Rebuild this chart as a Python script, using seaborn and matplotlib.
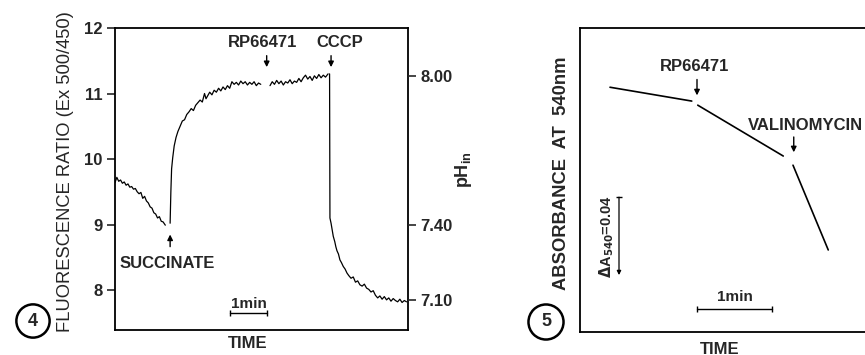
import numpy as np
import pandas as pd
import seaborn as sns
import matplotlib.pyplot as plt

# ---- data (time in min) ----
# fig 4: fluorescence ratio trace, split into segments where the trace is broken
seg_a_t = [0.00, 0.05, 0.10, 0.15, 0.20, 0.25, 0.30, 0.35, 0.40, 0.45, 0.50, 0.55, 0.60, 0.65,
           0.70, 0.75, 0.80, 0.85, 0.90, 0.95, 1.00, 1.05, 1.10, 1.15, 1.20, 1.25, 1.30, 1.36]
seg_a_r = [9.64, 9.72, 9.66, 9.68, 9.63, 9.65, 9.60, 9.62, 9.57, 9.58, 9.54, 9.55, 9.50, 9.47,
           9.49, 9.40, 9.43, 9.36, 9.33, 9.27, 9.25, 9.18, 9.16, 9.10, 9.12, 9.05, 9.04, 8.99]

seg_b_t = [1.49, 1.51, 1.53, 1.56, 1.60, 1.65, 1.70, 1.76, 1.82, 1.88, 1.94, 2.00, 2.06, 2.12,
           2.18, 2.24, 2.30, 2.36, 2.42, 2.46, 2.50, 2.56, 2.62, 2.68, 2.74, 2.80, 2.86, 2.92,
           2.98, 3.04, 3.10, 3.16, 3.22, 3.28, 3.34, 3.40, 3.46, 3.52, 3.58, 3.64, 3.70, 3.76,
           3.82, 3.88, 3.94]
seg_b_r = [9.02, 9.50, 9.85, 10.02, 10.20, 10.33, 10.42, 10.50, 10.58, 10.60, 10.68, 10.72,
           10.77, 10.74, 10.82, 10.86, 10.90, 10.87, 11.00, 10.92, 10.96, 11.02, 10.98, 11.05,
           11.02, 11.08, 11.04, 11.10, 11.06, 11.12, 11.08, 11.18, 11.14, 11.17, 11.13, 11.19,
           11.15, 11.18, 11.13, 11.17, 11.14, 11.18, 11.12, 11.16, 11.14]

seg_c_t = [4.19, 4.25, 4.31, 4.37, 4.43, 4.49, 4.55, 4.61, 4.67, 4.73, 4.79, 4.85, 4.91, 4.97,
           5.03, 5.09, 5.15, 5.21, 5.27, 5.33, 5.39, 5.45, 5.51, 5.57, 5.63, 5.69, 5.76]
seg_c_r = [11.12, 11.18, 11.14, 11.20, 11.15, 11.19, 11.13, 11.18, 11.16, 11.21, 11.15, 11.19,
           11.17, 11.23, 11.18, 11.24, 11.28, 11.22, 11.26, 11.20, 11.27, 11.23, 11.29, 11.24,
           11.28, 11.25, 11.30]

seg_d_t = [5.80, 5.81, 5.84, 5.87, 5.90, 5.94, 5.97, 6.00, 6.04, 6.08, 6.12, 6.17, 6.22, 6.27,
           6.32, 6.38, 6.44, 6.50, 6.56, 6.62, 6.68, 6.74, 6.80, 6.86, 6.92, 6.98, 7.04, 7.10,
           7.16, 7.22, 7.28, 7.34, 7.40, 7.46, 7.52, 7.58, 7.64, 7.70, 7.76, 7.82, 7.88]
seg_d_r = [11.30, 9.10, 9.02, 8.92, 8.82, 8.74, 8.66, 8.60, 8.55, 8.46, 8.42, 8.36, 8.32, 8.26,
           8.22, 8.18, 8.20, 8.12, 8.14, 8.08, 8.06, 8.09, 8.03, 8.01, 7.97, 7.99, 7.92, 7.88,
           7.91, 7.86, 7.90, 7.85, 7.88, 7.83, 7.87, 7.84, 7.82, 7.86, 7.81, 7.84, 7.82]

ph_tick_pos = [11.27, 9.00, 7.85]
ph_tick_labels = ['8.00', '7.40', '7.10']

# fig 5: absorbance at 540 nm (relative), three straight segments
abs_seg = ['a', 'a', 'b', 'b', 'c', 'c']
abs_t = [0.40, 1.49, 1.57, 2.71, 2.84, 3.31]
abs_val = [0.1256, 0.1185, 0.1164, 0.0903, 0.0856, 0.0421]

trace = pd.concat([
    pd.DataFrame({'t': seg_a_t, 'ratio': seg_a_r, 'seg': 'a'}),
    pd.DataFrame({'t': seg_b_t, 'ratio': seg_b_r, 'seg': 'b'}),
    pd.DataFrame({'t': seg_c_t, 'ratio': seg_c_r, 'seg': 'c'}),
    pd.DataFrame({'t': seg_d_t, 'ratio': seg_d_r, 'seg': 'd'}),
])
absorb = pd.DataFrame({'t': abs_t, 'A': abs_val, 'seg': abs_seg})

sns.set_style('white')
plt.rcParams['font.family'] = ['Liberation Sans', 'DejaVu Sans']
plt.rcParams['font.weight'] = 'bold'

W, H = 865, 355
fig = plt.figure(figsize=(W / 100, H / 100), dpi=100)


def fx(x):
    return x / W


def fy(y):
    return 1 - y / H


arrow = dict(arrowstyle='-|>', color='black', lw=1.0, mutation_scale=8)
fs = 12

# ---------- panel 4 ----------
ax1 = fig.add_axes([fx(115), fy(330), fx(408) - fx(115), fy(28) - fy(330)])
sns.lineplot(data=trace, x='t', y='ratio', units='seg', estimator=None,
             color='black', lw=0.9, ax=ax1)
ax1.set_xlim(0, 7.92)
ax1.set_ylim(7.39, 12)
ax1.set_yticks([8, 9, 10, 11, 12])
ax1.set_xticks([])
ax1.set_xlabel('')
ax1.set_ylabel('')
ax1.tick_params(axis='y', direction='out', length=6, width=1.2, left=True,
                labelsize=fs, pad=3)
for s in ax1.spines.values():
    s.set_color('black')
    s.set_linewidth(1.3)

ax1r = ax1.twinx()
ax1r.set_ylim(ax1.get_ylim())
ax1r.set_yticks(ph_tick_pos)
ax1r.set_yticklabels(ph_tick_labels)
ax1r.tick_params(axis='y', direction='out', length=6, width=1.2, right=True,
                 labelsize=fs, pad=3)
for s in ax1r.spines.values():
    s.set_visible(False)

ax1.annotate('', xy=(1.49, 8.89), xytext=(1.49, 8.62), arrowprops=arrow)
ax1.text(1.41, 8.40, 'SUCCINATE', ha='center', va='center', fontsize=fs)
ax1.annotate('', xy=(4.10, 11.36), xytext=(4.10, 11.62), arrowprops=arrow)
ax1.text(4.0, 11.78, 'RP66471', ha='center', va='center', fontsize=fs)
ax1.annotate('', xy=(5.84, 11.36), xytext=(5.84, 11.62), arrowprops=arrow)
ax1.text(6.08, 11.78, 'CCCP', ha='center', va='center', fontsize=fs)
ax1.plot([3.11, 4.11], [7.65, 7.65], color='black', lw=1.0, marker='|', ms=4)
ax1.text(3.61, 7.79, '1min', ha='center', va='center', fontsize=fs - 1)

fig.text(fx(66), fy(172), 'FLUORESCENCE RATIO (Ex 500/450)', rotation=90,
         ha='center', va='center', fontsize=13.2, fontweight='normal')
fig.text(fx(464), fy(170), 'pH$_{\\mathregular{in}}$', rotation=90,
         ha='center', va='center', fontsize=fs + 1)
fig.text(fx(248), fy(343), 'TIME', ha='center', va='center', fontsize=fs)
fig.text(fx(33), fy(321), '4', ha='center', va='center', fontsize=fs + 1,
         bbox=dict(boxstyle='circle,pad=0.45', fc='white', ec='black', lw=1.8))

# ---------- panel 5 ----------
ax2 = fig.add_axes([fx(580), fy(332), 1 - fx(580), fy(28) - fy(332)])
sns.lineplot(data=absorb, x='t', y='A', units='seg', estimator=None,
             color='black', lw=1.2, ax=ax2)
ax2.set_xlim(0, 3.8)
ax2.set_ylim(0, 0.156)
ax2.set_xticks([])
ax2.set_yticks([])
ax2.set_xlabel('')
ax2.set_ylabel('')
ax2.spines['right'].set_visible(False)
for s in ['left', 'top', 'bottom']:
    ax2.spines[s].set_color('black')
    ax2.spines[s].set_linewidth(1.3)

ax2.annotate('', xy=(1.56, 0.120), xytext=(1.56, 0.131), arrowprops=arrow)
ax2.text(1.53, 0.136, 'RP66471', ha='center', va='center', fontsize=fs)
ax2.annotate('', xy=(2.85, 0.0908), xytext=(2.85, 0.1015), arrowprops=arrow)
ax2.text(3.0, 0.106, 'VALINOMYCIN', ha='center', va='center', fontsize=fs)
# delta-A scale bar: capped top, arrow head at the bottom
ax2.annotate('', xy=(0.52, 0.0292), xytext=(0.52, 0.0692),
             arrowprops=dict(arrowstyle='-|>', color='black', lw=0.9,
                             mutation_scale=6, shrinkA=0, shrinkB=0))
ax2.plot([0.52], [0.0692], marker='_', ms=5, color='black', mew=1.0)
ax2.text(0.35, 0.049, '$\\Delta$A$_{540}$=0.04', rotation=90, ha='center',
         va='center', fontsize=fs - 1.5)
ax2.plot([1.56, 2.56], [0.0118, 0.0118], color='black', lw=1.0, marker='|', ms=4)
ax2.text(2.06, 0.018, '1min', ha='center', va='center', fontsize=fs - 1)

fig.text(fx(562), fy(173), 'ABSORBANCE  AT  540nm', rotation=90,
         ha='center', va='center', fontsize=13.2)
fig.text(fx(720), fy(349), 'TIME', ha='center', va='center', fontsize=fs)
fig.text(fx(546), fy(322), '5', ha='center', va='center', fontsize=fs + 1,
         bbox=dict(boxstyle='circle,pad=0.5', fc='white', ec='black', lw=1.8))

fig.savefig('out.png', dpi=100)
